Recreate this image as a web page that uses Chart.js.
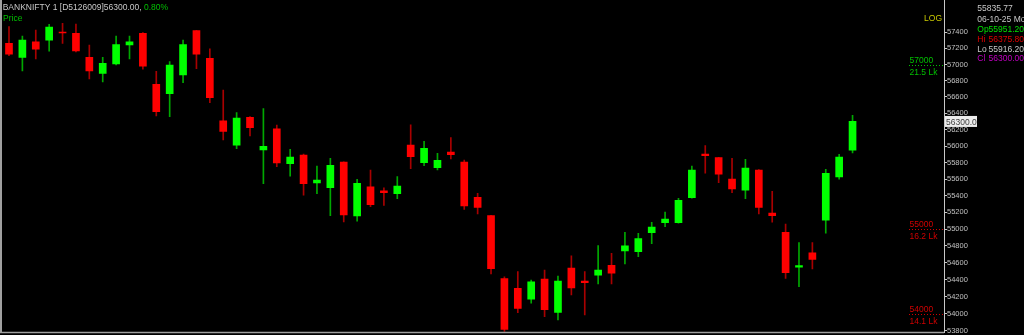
<!DOCTYPE html>
<html>
<head>
<meta charset="utf-8">
<script src="https://cdn.jsdelivr.net/npm/chart.js@4.4.1/dist/chart.umd.min.js"></script>
<style>
html,body{margin:0;padding:0;background:#000;overflow:hidden;}
#wrap{width:1024px;height:335px;}
</style>
</head>
<body>
<div id="wrap"><canvas id="c" width="1024" height="335"></canvas></div>
<script>
// ---- data (BANKNIFTY daily candles) ----
const opens  = [57263,57089,57280,57301,57404,57388,57089,56891,57006,57242,57388,56756,56640,56870,57420,57077,56309,56010,56351,55952,56211,55786,55891,55553,55496,55806,55156,55508,55457,55424,56013,55798,55737,55928,55806,55381,55160,54411,54298,54168,54407,54015,54537,54384,54451,54569,54739,54731,54957,55076,55076,55376,55904,55859,55601,55465,55710,55192,54962,54546,54716,55105,55625,55951.2];
const highs  = [57470,57354,57429,57499,57512,57503,57242,57089,57354,57354,57395,56916,57035,57304,57425,57196,56686,56407,56360,56456,56256,55961,55904,55758,55851,55810,55598,55710,55496,55629,56260,56058,55912,56102,55830,55429,55165,54434,54494,54395,54514,54443,54680,54494,54802,54712,54962,54950,55081,55204,55369,55758,56005,55864,55851,55839,55715,55453,55061,54838,54838,55718,55900,56375.8];
const lows   = [57109,56920,57068,57164,57263,57155,56821,56784,56994,57068,56941,56367,56358,56775,56948,56530,56074,55968,56122,55545,55749,55634,55405,55424,55160,55085,55093,55267,55284,55364,55725,55761,55710,55843,55236,55180,54466,53793,54011,54121,53964,53925,54219,53984,54348,54348,54585,54671,54826,55029,55069,55369,55670,55557,55436,55364,55180,55081,54415,54316,54525,54950,55598,55916.2];
const closes = [57127,57304,57189,57466,57391,57168,56920,57015,57246,57280,56981,56420,56994,57246,57127,56591,56179,56342,56223,55998,55794,55867,55545,55589,55766,55168,55549,55292,55436,55517,55871,55973,55827,55895,55276,55260,54529,53816,54062,54375,54046,54384,54301,54364,54514,54475,54799,54886,55025,55120,55345,55710,55883,55658,55480,55734,55260,55160,54482,54565,54640,55670,55867,56300];
const yTickValues = [53800,54000,54200,54400,54600,54800,55000,55200,55400,55600,55800,56000,56200,56400,56600,56800,57000,57200,57400];
const levelValues = [57000,55000,54000];
const levelLots   = ['21.5 Lk','16.2 Lk','14.1 Lk'];
const titleText = 'BANKNIFTY 1 [D5126009]56300.00, ';
const changeText = '0.80%';
const infoLines = [['', '55835.77'], ['', '06-10-25 Mon'], ['Op', '55951.20'], ['Hi', '56375.80'], ['Lo', '55916.20'], ['Cl', '56300.00']];
const lastPriceLabel = '56300.0';

const UP = '#00ff00', DOWN = '#ff0000', UPW = '#00a800', DOWNW = '#a80000';
const isUp = closes.map((c, i) => c >= opens[i]);
const bodyData = opens.map((o, i) => ({x: i, y: [o, closes[i]]}));
const wickData = lows.map((l, i) => ({x: i, y: [l, highs[i]]}));
const FONT = '"Liberation Sans", Arial, sans-serif';

const overlay = {
  id: 'overlay',
  beforeDraw(chart) {
    const ctx = chart.ctx;
    ctx.save();
    ctx.fillStyle = '#000';
    ctx.fillRect(0, 0, chart.width, chart.height);
    ctx.restore();
  },
  afterDraw(chart) {
    const ctx = chart.ctx, y = chart.scales.y, ca = chart.chartArea;
    ctx.save();
    // frame
    ctx.strokeStyle = '#a0a0a0';
    ctx.lineWidth = 2;
    ctx.beginPath(); ctx.moveTo(1, 0); ctx.lineTo(1, 333); ctx.stroke();
    ctx.lineWidth = 1.5;
    ctx.beginPath(); ctx.moveTo(0, 332.5); ctx.lineTo(ca.right, 332.5); ctx.stroke();
    // title
    ctx.textBaseline = 'alphabetic';
    ctx.textAlign = 'left';
    ctx.font = '8.5px ' + FONT;
    ctx.fillStyle = '#c8c8c8';
    ctx.fillText(titleText, 2.7, 10.3);
    const w = ctx.measureText(titleText).width;
    ctx.fillStyle = '#00c000';
    ctx.fillText(changeText, 2.7 + w, 10.3);
    ctx.fillText('Price', 3, 20.7);
    // LOG
    ctx.fillStyle = '#c8c800';
    ctx.textAlign = 'right';
    ctx.fillText('LOG', 942, 20.7);
    // levels
    ctx.textAlign = 'left';
    levelValues.forEach((v, k) => {
      const py = Math.round(y.getPixelForValue(v)) + 0.5;
      const col = k === 0 ? '#00c000' : '#d00000';
      ctx.strokeStyle = col; ctx.lineWidth = 1;
      ctx.setLineDash([1, 2]);
      ctx.beginPath(); ctx.moveTo(909, py); ctx.lineTo(ca.right, py); ctx.stroke();
      ctx.setLineDash([]);
      ctx.fillStyle = col;
      ctx.fillText(String(v), 909.5, py - 2.5);
      ctx.fillText(levelLots[k], 909.5, py + 9);
    });
    // info panel
    const infoBase = [11, 22, 31.5, 41.5, 51.5, 60.5];
    const infoCol = ['#c8c8c8', '#c8c8c8', '#00e000', '#e00000', '#c8c8c8', '#c000c0'];
    infoLines.forEach((ln, k) => {
      ctx.fillStyle = infoCol[k];
      if (ln[0]) {
        ctx.fillText(ln[0], 977.3, infoBase[k]);
        ctx.fillText(ln[1], 988.5, infoBase[k]);
      } else {
        ctx.fillText(ln[1], 977.3, infoBase[k]);
      }
    });
    // last price box
    const ly = y.getPixelForValue(closes[closes.length - 1]);
    ctx.fillStyle = '#ececec';
    ctx.fillRect(945, ly - 5.5, 32, 11);
    ctx.fillStyle = '#404040';
    ctx.fillText(lastPriceLabel, 946, ly + 3.2);
    ctx.restore();
  }
};

new Chart(document.getElementById('c'), {
  type: 'bar',
  data: {
    datasets: [
      { label: 'body', data: bodyData, grouped: false, order: 0, barThickness: 7,
        backgroundColor: isUp.map(u => u ? UP : DOWN), borderWidth: 0 },
      { label: 'wick', data: wickData, grouped: false, order: 1, barThickness: 1,
        backgroundColor: isUp.map(u => u ? UPW : DOWNW), borderWidth: 0 }
    ]
  },
  options: {
    responsive: false,
    animation: false,
    devicePixelRatio: 1,
    layout: { padding: { left: 2.3, right: 0, top: 0, bottom: 3 } },
    plugins: { legend: { display: false }, tooltip: { enabled: false } },
    scales: {
      x: { type: 'linear', display: false, min: -0.5, max: 69.83, offset: false },
      y: {
        type: 'logarithmic', position: 'right',
        min: 53784.8, max: 57803.9,
        afterBuildTicks(scale) { scale.ticks = yTickValues.map(v => ({ value: v })); },
        afterFit(scale) { scale.width = 80; scale.paddingTop = 0; scale.paddingBottom = 0; },
        border: { display: true, color: '#c8c8c8', width: 1 },
        grid: { drawOnChartArea: false, drawTicks: true, tickLength: 3, color: '#c8c8c8' },
        ticks: { autoSkip: false, padding: 0, color: '#c0c0c0',
                 font: { family: FONT, size: 7.5 }, callback: v => String(v) }
      }
    }
  },
  plugins: [overlay]
});
</script>
</body>
</html>
